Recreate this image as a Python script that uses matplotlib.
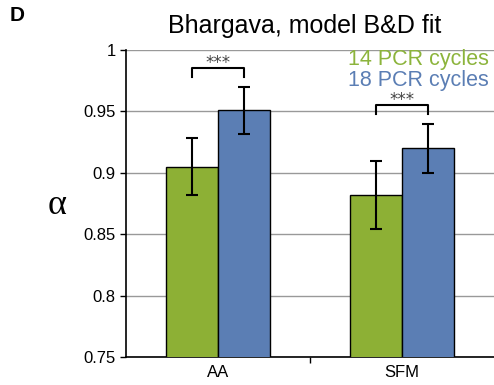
import numpy as np
import matplotlib.pyplot as plt
from matplotlib.ticker import FixedLocator

plt.rcParams['font.family'] = ['Liberation Sans', 'DejaVu Sans']

categories = ["AA", "SFM"]
series_names = ["14 PCR cycles", "18 PCR cycles"]
alpha_14 = [0.905, 0.882]
alpha_14_err = [0.023, 0.028]
alpha_18 = [0.951, 0.920]
alpha_18_err = [0.019, 0.020]
# bracket heights (data units) for the *** marks
bracket_y = [0.985, 0.955]

GREEN = "#8DB035"
BLUE = "#5B7EB4"

fig = plt.figure(figsize=(4.94, 3.85), dpi=100)
ax = fig.add_axes([0.255, 0.073, 0.745, 0.797])

x = np.arange(len(categories))
w = 0.283
ax.bar(x - w / 2, alpha_14, w, color=GREEN, edgecolor="black", linewidth=1.0, zorder=3)
ax.bar(x + w / 2, alpha_18, w, color=BLUE, edgecolor="black", linewidth=1.0, zorder=3)
ax.errorbar(x - w / 2, alpha_14, yerr=alpha_14_err, fmt="none", ecolor="black",
            elinewidth=1.5, capsize=4, capthick=1.5, zorder=4)
ax.errorbar(x + w / 2, alpha_18, yerr=alpha_18_err, fmt="none", ecolor="black",
            elinewidth=1.5, capsize=4, capthick=1.5, zorder=4)

for xi, by in zip(x, bracket_y):
    ax.plot([xi - w / 2, xi - w / 2, xi + w / 2, xi + w / 2],
            [by - 0.007, by, by, by - 0.007], color="black", lw=1.5, zorder=4)
    ax.text(xi, by + 0.0045, "***", ha="center", va="center", fontsize=12,
            color="#444444", family="DejaVu Sans", zorder=4)

ax.set_xlim(-0.5, 1.5)
ax.set_ylim(0.75, 1.0)
ax.set_yticks([0.75, 0.8, 0.85, 0.9, 0.95, 1.0])
ax.set_yticklabels(["0.75", "0.8", "0.85", "0.9", "0.95", "1"], fontsize=12)
ax.set_xticks(x)
ax.set_xticklabels(categories, fontsize=12)
ax.tick_params(axis="x", length=0, pad=6)
ax.xaxis.set_minor_locator(FixedLocator([0.5]))
ax.tick_params(axis="x", which="minor", length=4, width=1, direction="out")
ax.tick_params(axis="y", length=4, width=1, direction="out")
ax.grid(axis="y", color="#999999", linewidth=1.0, zorder=0)
ax.set_axisbelow(True)
for s in ["top", "right"]:
    ax.spines[s].set_visible(False)
ax.spines["left"].set_linewidth(1.2)
ax.spines["bottom"].set_linewidth(1.2)

ax.text(0.985, 0.968, series_names[0], transform=ax.transAxes, ha="right",
        va="center", fontsize=15.5, color="#8CB43C")
ax.text(0.985, 0.902, series_names[1], transform=ax.transAxes, ha="right",
        va="center", fontsize=15.5, color=BLUE)

fig.text(0.617, 0.932, "Bhargava, model B&D fit", ha="center", va="center", fontsize=18)
fig.text(0.02, 0.96, "D", ha="left", va="center", fontsize=15, fontweight="bold")
fig.text(0.115, 0.465, "α", ha="center", va="center", fontsize=26,
         family="Liberation Serif")

fig.savefig("out.png", dpi=100)
